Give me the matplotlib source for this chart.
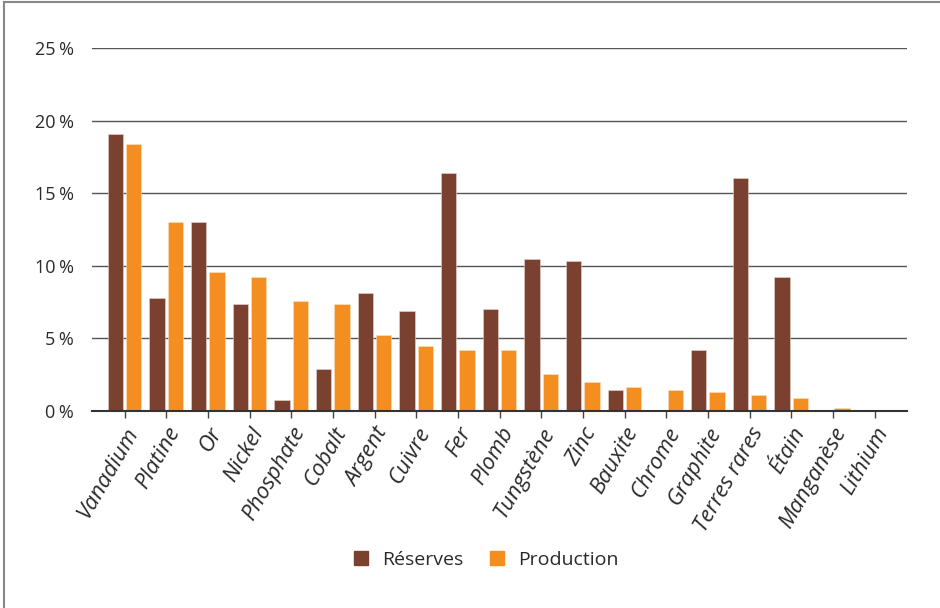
import matplotlib
matplotlib.use("Agg")
import matplotlib.pyplot as plt
import numpy as np
from matplotlib.lines import Line2D

categories = ["Vanadium", "Platine", "Or", "Nickel", "Phosphate", "Cobalt", "Argent",
              "Cuivre", "Fer", "Plomb", "Tungstène", "Zinc", "Bauxite", "Chrome",
              "Graphite", "Terres rares", "Étain", "Manganèse", "Lithium"]
reserves = [19.1, 7.8, 13.0, 7.4, 0.75, 2.9, 8.1, 6.9, 16.4, 7.05, 10.45, 10.3, 1.45, 0.0,
            4.2, 16.05, 9.2, 0.0, 0.0]
production = [18.4, 13.0, 9.6, 9.2, 7.6, 7.4, 5.2, 4.5, 4.2, 4.2, 2.55, 2.0, 1.65, 1.45,
              1.3, 1.1, 0.92, 0.2, 0.0]
yticks = [0, 5, 10, 15, 20, 25]
series_names = ["Réserves", "Production"]

c_res = "#7a4030"
c_prod = "#f58e20"

plt.rcParams['font.family'] = ['Open Sans', 'DejaVu Sans']

fig = plt.figure(figsize=(9.4, 6.08), dpi=100)
ax = fig.add_axes([92/940, 1 - 411/608, (907-92)/940, (411-48)/608])

x = np.arange(len(categories))
w = 0.37
ax.bar(x - 0.22, reserves, w, color=c_res, edgecolor="#e8d5cf", linewidth=0.4, label=series_names[0], zorder=3)
ax.bar(x + 0.22, production, w, color=c_prod, edgecolor="#fde0c0", linewidth=0.4, label=series_names[1], zorder=3)

ax.set_xlim(-0.78, len(categories) - 1 + 0.78)
ax.set_ylim(0, 25)
ax.set_yticks(yticks)
ax.set_yticklabels([f"{v}\u202f%" for v in yticks], fontsize=13, color="#2a2a2a")
ax.set_xticks(x)
ax.set_xticklabels(categories, rotation=60, ha="right", rotation_mode="anchor",
                   fontsize=16, color="#2a2a2a", style="italic")
ax.tick_params(axis="y", length=0, pad=13)
ax.tick_params(axis="x", length=5, width=1, color="#444444", pad=4)
ax.grid(axis="y", color="#555555", linewidth=1.0, zorder=0)
ax.set_axisbelow(True)
for s in ["top", "right", "left"]:
    ax.spines[s].set_visible(False)
ax.spines["bottom"].set_color("#333333")
ax.spines["bottom"].set_linewidth(1.5)
ax.spines["bottom"].set_zorder(4)

handles = [Line2D([], [], marker="s", linestyle="none", markersize=10, color=c_res),
           Line2D([], [], marker="s", linestyle="none", markersize=10, color=c_prod)]
fig.legend(handles, series_names, loc="center", bbox_to_anchor=(480/940, 1 - 560/608),
           ncol=2, frameon=False, fontsize=14, handletextpad=0.1, columnspacing=0.7,
           labelcolor="#2a2a2a")

# frame lines (top and left of the picture)
fig.add_artist(Line2D([3.5/940, 1], [1 - 1.5/608, 1 - 1.5/608], transform=fig.transFigure, color="#888888", linewidth=1.5))
fig.add_artist(Line2D([3.5/940, 3.5/940], [0, 1 - 1.5/608], transform=fig.transFigure, color="#888888", linewidth=1.5))

fig.savefig("out.png", dpi=100)
